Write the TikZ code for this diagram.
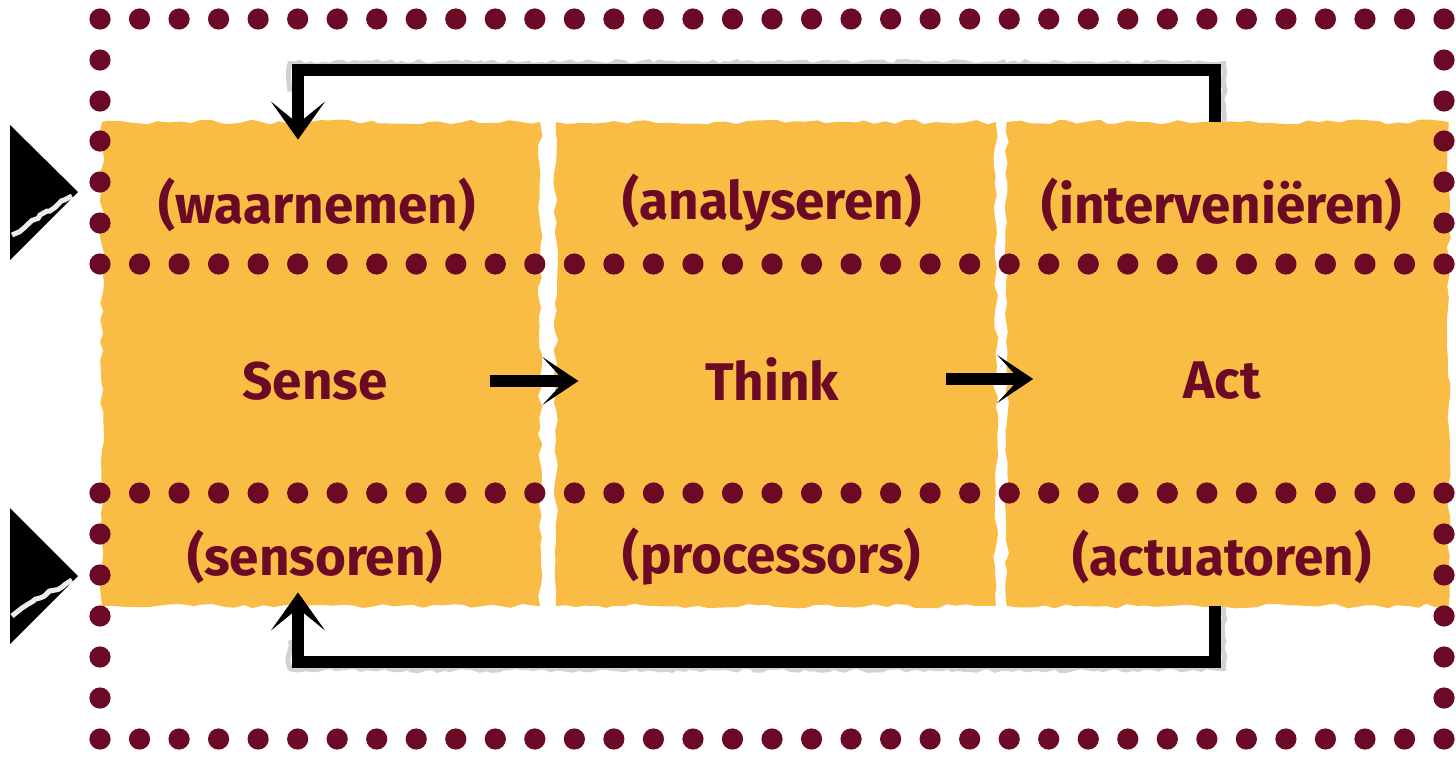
\documentclass[tikz,border=0pt]{standalone}
\usepackage{fontspec}
\setmainfont{Fira Sans}
\usepackage{tikz}
\usetikzlibrary{arrows.meta,positioning}
\usetikzlibrary{decorations.pathmorphing}
\definecolor{wine}{RGB}{108,10,38}
\definecolor{paperc}{RGB}{249,188,68}
\tikzstyle{paper}=[fill=paperc, minimum height=242pt, inner sep=0pt, decorate, decoration={random steps, segment length=5pt, amplitude=1.2pt}]
\tikzstyle{word}=[text=wine, font=\bfseries\fontsize{26.5}{30}\selectfont, inner sep=0pt]
\tikzstyle{dot}=[fill=wine]
\tikzstyle{push}=[line width=6pt, -{Stealth[length=18pt, width=24pt, inset=11pt]}]
\tikzstyle{feedback}=[line width=6pt, -{Stealth[length=19pt, width=27pt, inset=11pt]}]
\tikzstyle{chalk}=[gray!35, line width=2.5pt, decorate, decoration={random steps, segment length=3pt, amplitude=1pt}]

\begin{document}
\begin{tikzpicture}[x=0.5pt, y=-0.5pt, node distance=7.5pt]
\pgfmathsetseed{11}
\useasboundingbox (0,0) rectangle (1456,756);
% paper strips
  \node[paper, minimum width=219pt] (p1) at (321,364) {};
  \node[paper, minimum width=220pt, right=7.5pt of p1] (p2) {};
  \node[paper, minimum width=221pt, right=5pt of p2] (p3) {};
% dotted frame and rows
  \foreach \y in {19,264,493,739}
    \foreach \i in {0,...,34}
      \fill[dot] ({100+\i*39.53},\y) circle (5.3pt);
  \foreach \x in {100,1444}
    \foreach \y in {60,101,141,182,223,534,575,616,657,698}
      \fill[dot] (\x,\y) circle (5.3pt);
% input triangles
  \fill (10,125) -- (78,192) -- (10,260) -- cycle;
  \fill (10,508) -- (78,576) -- (10,644) -- cycle;
  \draw[chalk, gray!15] (12,235) -- (40,215) -- (72,196);
  \draw[chalk, gray!15] (12,616) -- (40,598) -- (72,580);
% labels
  \node[word] (waar) at (317,205) {(waarnemen)};
  \node[word] (anal) at (772,203) {(analyseren)};
  \node[word] (inter) at (1222,205) {(interveniëren)};
  \node[word] (sense) at (315,381) {Sense};
  \node[word] (think) at (772,379) {Think};
  \node[word] (act) at (1222,381) {Act};
  \node[word] (sens) at (315,557) {(sensoren)};
  \node[word] (proc) at (772,557) {(processors)};
  \node[word] (actu) at (1222,557) {(actuatoren)};
% flow
  \draw[push, shorten <=-25pt, shorten >=-11.5pt] (p1.east |- sense) -- (p2.west |- sense);
  \draw[push, shorten <=-25pt, shorten >=-13.5pt] (p2.east |- think) -- (p3.west |- think);
% feedback loops
  \draw[chalk] ([xshift=-2pt]p3.north) -- ++(0,-58) -- ([xshift=-15.5pt, yshift=29pt]p1.north) -- ++(0,28);
  \draw[feedback] ([xshift=-6.5pt]p3.north) -- ++(0,-52) -| ([xshift=-11.5pt, yshift=-9pt]p1.north);
  \draw[chalk] ([xshift=-2pt]p3.south) -- ++(0,62) -- ([xshift=-15.5pt, yshift=-31pt]p1.south) -- ++(0,-28);
  \draw[feedback] ([xshift=-6.5pt]p3.south) -- ++(0,56) -| ([xshift=-11.5pt, yshift=7pt]p1.south);
\end{tikzpicture}
\end{document}
